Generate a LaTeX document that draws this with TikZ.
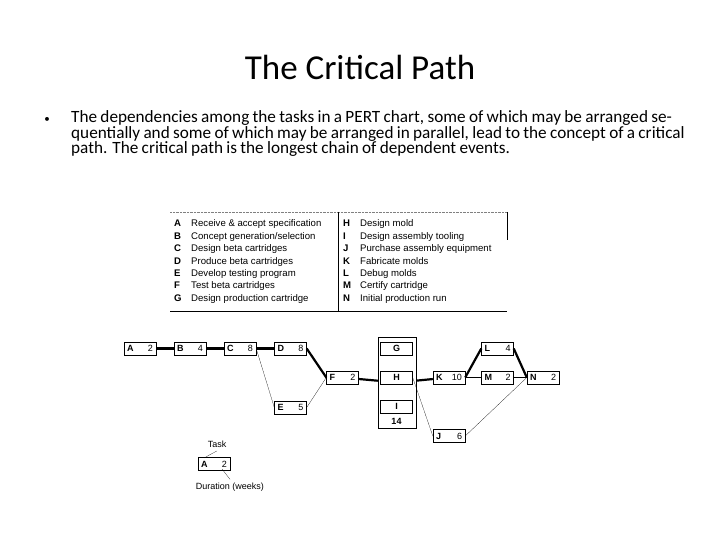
\documentclass[tikz,border=0pt]{standalone}
\usepackage{fontspec}
\setmainfont{Carlito}
\newfontfamily\tabfont{Liberation Sans}
\usetikzlibrary{positioning}
\tikzset{%
  task/.style={draw, minimum width=32pt, minimum height=13pt, inner sep=0pt, font=\tabfont\fontsize{9}{9}\selectfont},
  crit/.style={line width=2.2pt},
  side/.style={very thin},
  tabtext/.style={anchor=base west, inner sep=0pt, font=\tabfont\fontsize{9.6}{10}\selectfont}
}
\newcommand{\tk}[2]{\makebox[26pt]{\textbf{#1}\hfill#2}}
\begin{document}
\begin{tikzpicture}[x=1pt,y=-1pt]
  \useasboundingbox (0,0) rectangle (720,540);
  \node (title) at (360,67) {\fontsize{35}{35}\selectfont The Critical Path};
  \node (bul) at (47,120) {\fontsize{11}{11}\selectfont •};
  \node[anchor=north west, text width=625pt, inner sep=0pt] (txt) at (71,110)
    {\fontsize{17.2}{21}\selectfont The dependencies among the tasks in a PERT chart, some of which may be arranged sequentially and some of which may be arranged in parallel, lead to the concept of a critical path. The critical path is the longest chain of dependent events.};

  % task table
  \draw[densely dotted, gray] (170,212) -- (507,212);
  \draw (170,311) -- (507,311);
  \draw (338,212) -- (338,311);
  \draw (507,212) -- (507,240);
  \foreach \l/\t [count=\i] in {A/{Receive \& accept specification}, B/{Concept generation/selection},
      C/{Design beta cartridges}, D/{Produce beta cartridges}, E/{Develop testing program},
      F/{Test beta cartridges}, G/{Design production cartridge}}
    \node[tabtext] (lt\i) at (174,214.5+12.4*\i) {\makebox[17pt][l]{\textbf{\l}}\t};
  \foreach \l/\t [count=\i] in {H/{Design mold}, I/{Design assembly tooling}, J/{Purchase assembly equipment},
      K/{Fabricate molds}, L/{Debug molds}, M/{Certify cartridge}, N/{Initial production run}}
    \node[tabtext] (rt\i) at (343,214.5+12.4*\i) {\makebox[17pt][l]{\textbf{\l}}\t};

  % network
  \node[task] (A) at (140,348.5) {\tk{A}{2}};
  \node[task] (B) at (190,348.5) {\tk{B}{4}};
  \node[task] (C) at (240,348.5) {\tk{C}{8}};
  \node[task] (D) at (290.5,348.5) {\tk{D}{8}};
  \node[task] (E) at (290.5,407.5) {\tk{E}{5}};
  \node[task] (F) at (342.5,377.5) {\tk{F}{2}};
  \node[draw, minimum width=38pt, minimum height=91pt, inner sep=0pt] (GHI) at (397,382.5) {};
  \node[task] (G) at (396.5,348.5) {\textbf{G}};
  \node[task] (H) at (396.5,377.5) {\textbf{H}};
  \node[task] (I) at (396.5,406.5) {\textbf{I}};
  \node[font=\tabfont\bfseries\fontsize{9}{9}\selectfont] (dI) at (396.5,421) {14};
  \node[task] (K) at (449,377.5) {\tk{K}{10}};
  \node[task] (J) at (449,436) {\tk{J}{6}};
  \node[task] (L) at (497.5,348.5) {\tk{L}{4}};
  \node[task] (M) at (497.5,377.5) {\tk{M}{2}};
  \node[task] (N) at (543,377.5) {\tk{N}{2}};

  \draw[crit] (A) -- (B);
  \draw[crit] (B) -- (C);
  \draw[crit] (C) -- (D);
  \draw[crit] (D.east) -- (F.west);
  \draw[crit] (F) -- (GHI);
  \draw[crit] (GHI) -- (K);
  \draw[crit] (K.east) -- (L.west);
  \draw[crit] (L.east) -- (N.west);
  \draw[side] (C.east) -- (E.west);
  \draw[side] (E.east) -- (F.west);
  \draw[side] (K) -- (M);
  \draw[side] (M) -- (N);
  \draw[side] (H.east) -- (J.west);
  \draw[side] (J.east) -- (N.west);

  % legend
  \node[task] (key) at (214,464) {\tk{A}{2}};
  \node[font=\tabfont\fontsize{9}{9}\selectfont] (ktask) at (217,444) {Task};
  \node[font=\tabfont\fontsize{9}{9}\selectfont] (kdur) at (230,487) {Duration (weeks)};
  \draw[side] (ktask.south) -- (204,458);
  \draw[side] (kdur.north) -- (222,469);
\end{tikzpicture}
\end{document}
